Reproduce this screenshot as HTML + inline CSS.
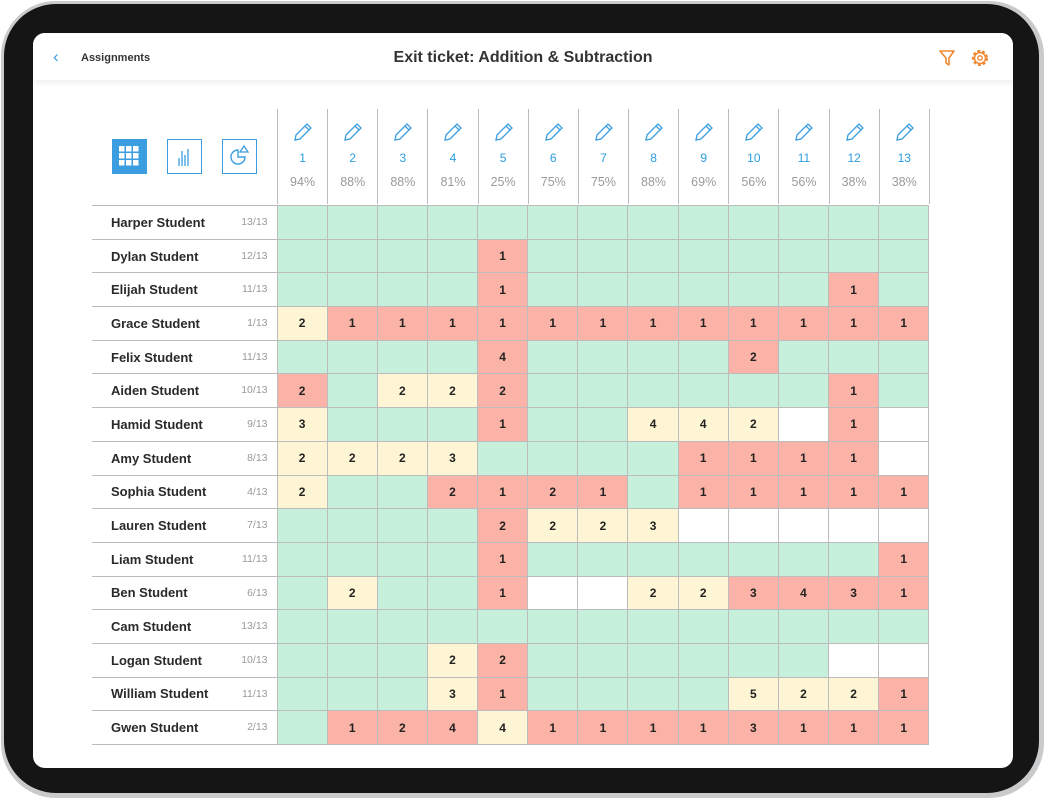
<!DOCTYPE html>
<html><head><meta charset="utf-8"><style>
body{margin:0;width:1045px;height:800px;background:#fff;position:relative;overflow:hidden;font-family:"Liberation Sans",sans-serif}
.outer{position:absolute;left:1px;top:1px;width:1043px;height:797px;border-radius:55px;background:#c9cacc}
.bezel{position:absolute;left:4px;top:4px;width:1035px;height:789px;border-radius:52px;background:#151515}
.screen{position:absolute;left:33px;top:33px;width:980px;height:735px;border-radius:12px;background:#fff;overflow:hidden}
.hdr{position:absolute;left:0;top:0;width:980px;height:47px;background:#fff;box-shadow:0 3px 6px rgba(0,0,0,0.07)}
.back{position:absolute;left:20px;top:14px;color:#3a9ee0;font-size:17px}
.assign{position:absolute;left:48px;top:19px;font-size:11px;font-weight:bold;color:#333}
.title{position:absolute;left:0;width:980px;top:16px;text-align:center;font-size:16px;font-weight:bold;color:#333}
table{border-collapse:collapse;position:absolute}
#g{left:59px;top:172px}
#g td{height:32.7px;padding:0;border:1px solid #bcbcbc;width:49.15px;text-align:center;font-size:12px;font-weight:bold;color:#222}
#g td.n{width:185px;border-left:none;text-align:left;padding-left:19px;box-sizing:border-box;font-size:13px;color:#2a2a2a;position:relative}
#g td.n span{position:absolute;right:9px;top:10px;font-size:10.5px;font-weight:normal;color:#999}
.G{background:#c6efdc}.R{background:#fbb3a7}.Y{background:#fef5d4}.W{background:#fff}
#h{left:244px;top:76px}
#h td{width:49.15px;height:95px;border-left:1px solid #bcbcbc;border-right:1px solid #bcbcbc;text-align:center;padding:0;vertical-align:top;position:relative}
#h .num{position:absolute;left:0;right:0;top:42px;color:#2a9ee0;font-size:12px}
#h .pc{position:absolute;left:0;right:0;top:66px;color:#9a9a9a;font-size:12.5px}
#h svg{position:absolute;left:14px;top:12px}
.ic{position:absolute;top:106px;width:35px;height:35px;border:1.5px solid #3a9ee0;box-sizing:border-box}
</style></head><body>
<div class="outer"></div><div class="bezel"></div>
<div class="screen">
<div class="hdr"><div class="back">&#8249;</div><div class="assign">Assignments</div><div class="title">Exit ticket: Addition &amp; Subtraction</div>
<svg style="position:absolute;left:905px;top:16px" width="18" height="18" viewBox="0 0 18 18"><path d="M2 2h14l-5 7v7l-3-2V9z" fill="none" stroke="#f0872e" stroke-width="1.6" stroke-linejoin="round"/></svg>
<svg style="position:absolute;left:937px;top:15px" width="20" height="20" viewBox="0 0 20 20"><circle cx="10" cy="10" r="7" fill="none" stroke="#f0872e" stroke-width="2" stroke-dasharray="3 2"/><circle cx="10" cy="10" r="5.5" fill="none" stroke="#f0872e" stroke-width="1.4"/><circle cx="10" cy="10" r="2.2" fill="none" stroke="#f0872e" stroke-width="1.4"/></svg>
</div>
<div class="ic" style="left:79px;background:#3a9ee0"><svg width="32" height="32" viewBox="0 0 32 32"><g fill="#fff"><rect x="6" y="6" width="5.5" height="5.5"/><rect x="13" y="6" width="5.5" height="5.5"/><rect x="20" y="6" width="5.5" height="5.5"/><rect x="6" y="13" width="5.5" height="5.5"/><rect x="13" y="13" width="5.5" height="5.5"/><rect x="20" y="13" width="5.5" height="5.5"/><rect x="6" y="20" width="5.5" height="5.5"/><rect x="13" y="20" width="5.5" height="5.5"/><rect x="20" y="20" width="5.5" height="5.5"/></g></svg></div>
<div class="ic" style="left:134px"><svg width="32" height="32" viewBox="0 0 32 32"><g stroke="#3a9ee0" stroke-width="1.3"><line x1="11" y1="26" x2="11" y2="18"/><line x1="14" y1="26" x2="14" y2="11"/><line x1="17" y1="26" x2="17" y2="15"/><line x1="20" y1="26" x2="20" y2="9"/></g></svg></div>
<div class="ic" style="left:189px"><svg width="32" height="32" viewBox="0 0 32 32"><path d="M15 10a7 7 0 1 0 7 7h-7z" fill="none" stroke="#3a9ee0" stroke-width="1.4"/><path d="M21 6l4 6h-8z" fill="none" stroke="#3a9ee0" stroke-width="1.3"/></svg></div>
<table id="h"><tr>
<td><svg width="22" height="22" viewBox="0 0 22 22"><path d="M3 19l1-5L15 3l4 4L8 18z M13 5l4 4" fill="none" stroke="#3a9ee0" stroke-width="1.3"/></svg><div class="num">1</div><div class="pc">94%</div></td>
<td><svg width="22" height="22" viewBox="0 0 22 22"><path d="M3 19l1-5L15 3l4 4L8 18z M13 5l4 4" fill="none" stroke="#3a9ee0" stroke-width="1.3"/></svg><div class="num">2</div><div class="pc">88%</div></td>
<td><svg width="22" height="22" viewBox="0 0 22 22"><path d="M3 19l1-5L15 3l4 4L8 18z M13 5l4 4" fill="none" stroke="#3a9ee0" stroke-width="1.3"/></svg><div class="num">3</div><div class="pc">88%</div></td>
<td><svg width="22" height="22" viewBox="0 0 22 22"><path d="M3 19l1-5L15 3l4 4L8 18z M13 5l4 4" fill="none" stroke="#3a9ee0" stroke-width="1.3"/></svg><div class="num">4</div><div class="pc">81%</div></td>
<td><svg width="22" height="22" viewBox="0 0 22 22"><path d="M3 19l1-5L15 3l4 4L8 18z M13 5l4 4" fill="none" stroke="#3a9ee0" stroke-width="1.3"/></svg><div class="num">5</div><div class="pc">25%</div></td>
<td><svg width="22" height="22" viewBox="0 0 22 22"><path d="M3 19l1-5L15 3l4 4L8 18z M13 5l4 4" fill="none" stroke="#3a9ee0" stroke-width="1.3"/></svg><div class="num">6</div><div class="pc">75%</div></td>
<td><svg width="22" height="22" viewBox="0 0 22 22"><path d="M3 19l1-5L15 3l4 4L8 18z M13 5l4 4" fill="none" stroke="#3a9ee0" stroke-width="1.3"/></svg><div class="num">7</div><div class="pc">75%</div></td>
<td><svg width="22" height="22" viewBox="0 0 22 22"><path d="M3 19l1-5L15 3l4 4L8 18z M13 5l4 4" fill="none" stroke="#3a9ee0" stroke-width="1.3"/></svg><div class="num">8</div><div class="pc">88%</div></td>
<td><svg width="22" height="22" viewBox="0 0 22 22"><path d="M3 19l1-5L15 3l4 4L8 18z M13 5l4 4" fill="none" stroke="#3a9ee0" stroke-width="1.3"/></svg><div class="num">9</div><div class="pc">69%</div></td>
<td><svg width="22" height="22" viewBox="0 0 22 22"><path d="M3 19l1-5L15 3l4 4L8 18z M13 5l4 4" fill="none" stroke="#3a9ee0" stroke-width="1.3"/></svg><div class="num">10</div><div class="pc">56%</div></td>
<td><svg width="22" height="22" viewBox="0 0 22 22"><path d="M3 19l1-5L15 3l4 4L8 18z M13 5l4 4" fill="none" stroke="#3a9ee0" stroke-width="1.3"/></svg><div class="num">11</div><div class="pc">56%</div></td>
<td><svg width="22" height="22" viewBox="0 0 22 22"><path d="M3 19l1-5L15 3l4 4L8 18z M13 5l4 4" fill="none" stroke="#3a9ee0" stroke-width="1.3"/></svg><div class="num">12</div><div class="pc">38%</div></td>
<td><svg width="22" height="22" viewBox="0 0 22 22"><path d="M3 19l1-5L15 3l4 4L8 18z M13 5l4 4" fill="none" stroke="#3a9ee0" stroke-width="1.3"/></svg><div class="num">13</div><div class="pc">38%</div></td>
</tr></table>
<table id="g">
<tr><td class="n">Harper Student<span>13/13</span></td><td class="G"></td><td class="G"></td><td class="G"></td><td class="G"></td><td class="G"></td><td class="G"></td><td class="G"></td><td class="G"></td><td class="G"></td><td class="G"></td><td class="G"></td><td class="G"></td><td class="G"></td></tr>
<tr><td class="n">Dylan Student<span>12/13</span></td><td class="G"></td><td class="G"></td><td class="G"></td><td class="G"></td><td class="R">1</td><td class="G"></td><td class="G"></td><td class="G"></td><td class="G"></td><td class="G"></td><td class="G"></td><td class="G"></td><td class="G"></td></tr>
<tr><td class="n">Elijah Student<span>11/13</span></td><td class="G"></td><td class="G"></td><td class="G"></td><td class="G"></td><td class="R">1</td><td class="G"></td><td class="G"></td><td class="G"></td><td class="G"></td><td class="G"></td><td class="G"></td><td class="R">1</td><td class="G"></td></tr>
<tr><td class="n">Grace Student<span>1/13</span></td><td class="Y">2</td><td class="R">1</td><td class="R">1</td><td class="R">1</td><td class="R">1</td><td class="R">1</td><td class="R">1</td><td class="R">1</td><td class="R">1</td><td class="R">1</td><td class="R">1</td><td class="R">1</td><td class="R">1</td></tr>
<tr><td class="n">Felix Student<span>11/13</span></td><td class="G"></td><td class="G"></td><td class="G"></td><td class="G"></td><td class="R">4</td><td class="G"></td><td class="G"></td><td class="G"></td><td class="G"></td><td class="R">2</td><td class="G"></td><td class="G"></td><td class="G"></td></tr>
<tr><td class="n">Aiden Student<span>10/13</span></td><td class="R">2</td><td class="G"></td><td class="Y">2</td><td class="Y">2</td><td class="R">2</td><td class="G"></td><td class="G"></td><td class="G"></td><td class="G"></td><td class="G"></td><td class="G"></td><td class="R">1</td><td class="G"></td></tr>
<tr><td class="n">Hamid Student<span>9/13</span></td><td class="Y">3</td><td class="G"></td><td class="G"></td><td class="G"></td><td class="R">1</td><td class="G"></td><td class="G"></td><td class="Y">4</td><td class="Y">4</td><td class="Y">2</td><td class="W"></td><td class="R">1</td><td class="W"></td></tr>
<tr><td class="n">Amy Student<span>8/13</span></td><td class="Y">2</td><td class="Y">2</td><td class="Y">2</td><td class="Y">3</td><td class="G"></td><td class="G"></td><td class="G"></td><td class="G"></td><td class="R">1</td><td class="R">1</td><td class="R">1</td><td class="R">1</td><td class="W"></td></tr>
<tr><td class="n">Sophia Student<span>4/13</span></td><td class="Y">2</td><td class="G"></td><td class="G"></td><td class="R">2</td><td class="R">1</td><td class="R">2</td><td class="R">1</td><td class="G"></td><td class="R">1</td><td class="R">1</td><td class="R">1</td><td class="R">1</td><td class="R">1</td></tr>
<tr><td class="n">Lauren Student<span>7/13</span></td><td class="G"></td><td class="G"></td><td class="G"></td><td class="G"></td><td class="R">2</td><td class="Y">2</td><td class="Y">2</td><td class="Y">3</td><td class="W"></td><td class="W"></td><td class="W"></td><td class="W"></td><td class="W"></td></tr>
<tr><td class="n">Liam Student<span>11/13</span></td><td class="G"></td><td class="G"></td><td class="G"></td><td class="G"></td><td class="R">1</td><td class="G"></td><td class="G"></td><td class="G"></td><td class="G"></td><td class="G"></td><td class="G"></td><td class="G"></td><td class="R">1</td></tr>
<tr><td class="n">Ben Student<span>6/13</span></td><td class="G"></td><td class="Y">2</td><td class="G"></td><td class="G"></td><td class="R">1</td><td class="W"></td><td class="W"></td><td class="Y">2</td><td class="Y">2</td><td class="R">3</td><td class="R">4</td><td class="R">3</td><td class="R">1</td></tr>
<tr><td class="n">Cam Student<span>13/13</span></td><td class="G"></td><td class="G"></td><td class="G"></td><td class="G"></td><td class="G"></td><td class="G"></td><td class="G"></td><td class="G"></td><td class="G"></td><td class="G"></td><td class="G"></td><td class="G"></td><td class="G"></td></tr>
<tr><td class="n">Logan Student<span>10/13</span></td><td class="G"></td><td class="G"></td><td class="G"></td><td class="Y">2</td><td class="R">2</td><td class="G"></td><td class="G"></td><td class="G"></td><td class="G"></td><td class="G"></td><td class="G"></td><td class="W"></td><td class="W"></td></tr>
<tr><td class="n">William Student<span>11/13</span></td><td class="G"></td><td class="G"></td><td class="G"></td><td class="Y">3</td><td class="R">1</td><td class="G"></td><td class="G"></td><td class="G"></td><td class="G"></td><td class="Y">5</td><td class="Y">2</td><td class="Y">2</td><td class="R">1</td></tr>
<tr><td class="n">Gwen Student<span>2/13</span></td><td class="G"></td><td class="R">1</td><td class="R">2</td><td class="R">4</td><td class="Y">4</td><td class="R">1</td><td class="R">1</td><td class="R">1</td><td class="R">1</td><td class="R">3</td><td class="R">1</td><td class="R">1</td><td class="R">1</td></tr>
</table>
</div>
</body></html>
